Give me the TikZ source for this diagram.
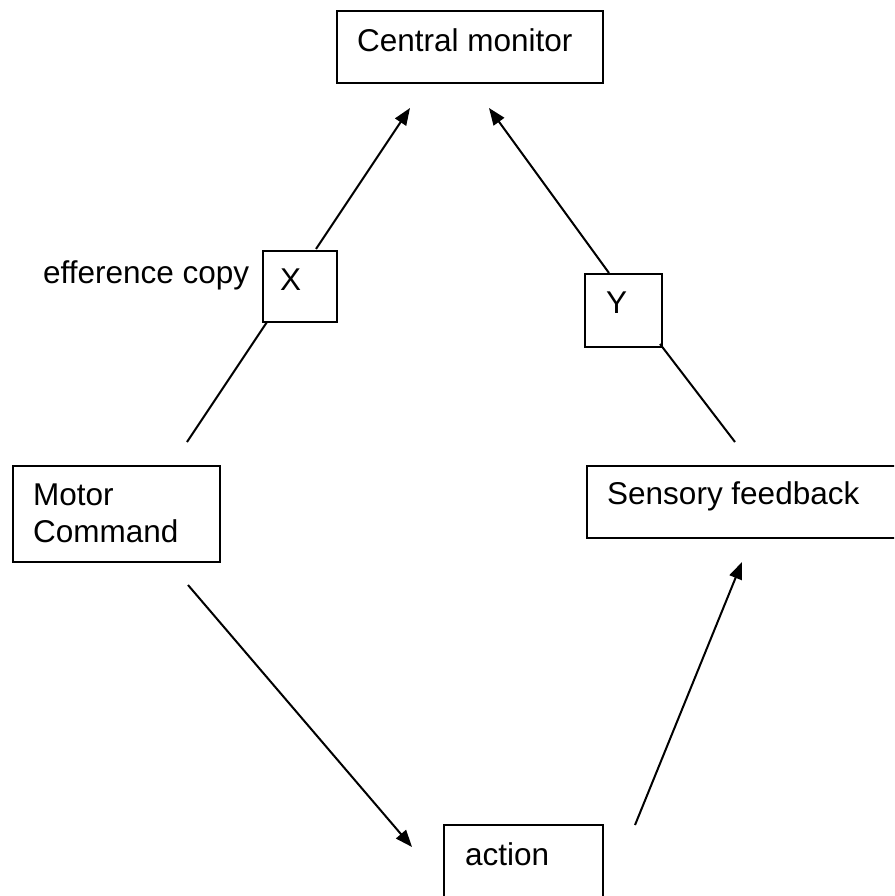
\documentclass[tikz,border=0pt]{standalone}
\usepackage{fontspec}
\setmainfont{Liberation Sans}
\usetikzlibrary{arrows.meta}
\begin{document}
\begin{tikzpicture}[x=1pt,y=-1pt,
  box/.style={draw, line width=2pt, inner sep=0pt, anchor=north west},
  lbl/.style={inner sep=0pt, font=\fontsize{31.5}{36.5}\selectfont},
  link/.style={line width=2pt},
  arr/.style={line width=2pt, -{Triangle[length=17pt,width=13pt]}}]
\useasboundingbox (0,0) rectangle (894,896);
\clip (0,0) rectangle (894,896);

% boxes
\node[box, minimum width=266pt, minimum height=72pt] (cm) at (336,10) {};
\node[box, minimum width=74pt,  minimum height=71pt] (xb) at (262,250) {};
\node[box, minimum width=77pt,  minimum height=73pt] (yb) at (584,273) {};
\node[box, minimum width=207pt, minimum height=96pt] (mc) at (12,465) {};
\node[box, minimum width=330pt, minimum height=72pt] (sf) at (586,465) {};
\node[box, minimum width=159pt, minimum height=72pt] (ac) at (443,824) {};

% texts
\node[lbl, anchor=base west] (cmt) at (357,52) {Central monitor};
\node[lbl, anchor=base west] (xt) at (280,290) {X};
\node[lbl, anchor=base west] (yt) at (606,313) {Y};
\node[lbl, anchor=base west] (eff) at (43,283) {efference copy};
\node[lbl, anchor=base west] (mct1) at (33,505) {Motor};
\node[lbl, anchor=base west] (mct2) at (33,542) {Command};
\node[lbl, anchor=base west] (sft) at (607,504) {Sensory feedback};
\node[lbl, anchor=base west] (act) at (465,865) {action};

% connector end points
\coordinate (xtop) at (316,249);
\coordinate (cmL) at (410,108);
\coordinate (ytop) at (609,273);
\coordinate (cmR) at (489,108);
\coordinate (xbot) at (267,322);
\coordinate (mcTop) at (187,442);
\coordinate (ybot) at (660,344);
\coordinate (sfTop) at (735,442);
\coordinate (mcBot) at (188,585);
\coordinate (acL) at (412,847);
\coordinate (acR) at (635,825);
\coordinate (sfBot) at (742,562);

% connectors
\draw[arr] (xtop) -- (cmL);
\draw[arr] (ytop) -- (cmR);
\draw[link] (xbot) -- (mcTop);
\draw[link] (ybot) -- (sfTop);
\draw[arr] (mcBot) -- (acL);
\draw[arr] (acR) -- (sfBot);
\end{tikzpicture}
\end{document}
